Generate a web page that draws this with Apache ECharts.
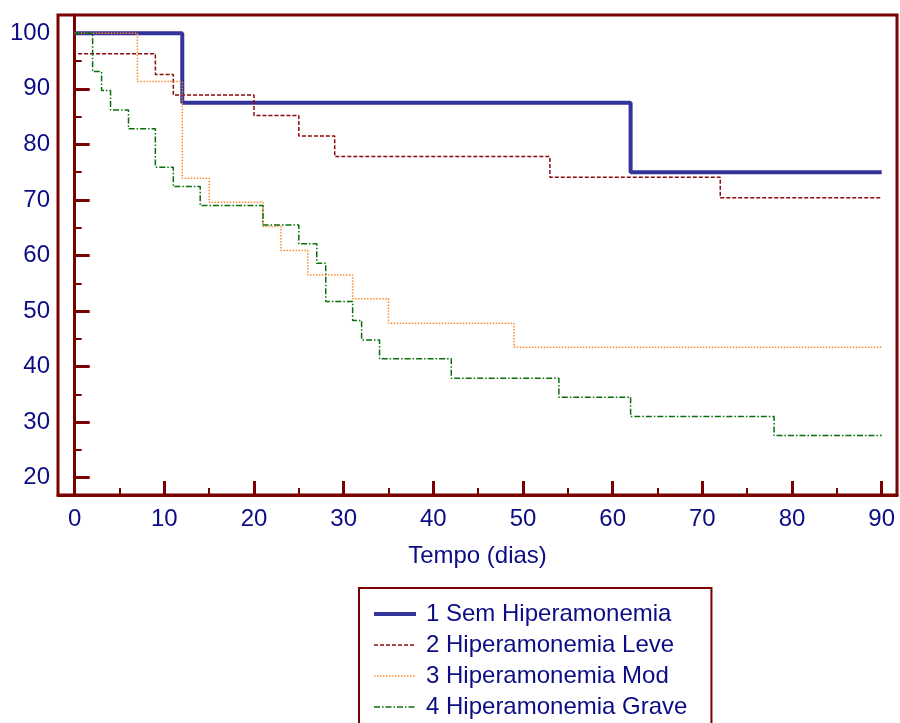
<!DOCTYPE html>
<html>
<head>
<meta charset="utf-8">
<script src="https://cdn.jsdelivr.net/npm/echarts@6/dist/echarts.min.js"></script>
<style>
html,body{margin:0;padding:0;background:#ffffff;}
#chart{width:900px;height:723px;}
</style>
</head>
<body>
<div id="chart"></div>
<script>
// ---- Data ----
const seriesNames = ['1 Sem Hiperamonemia', '2 Hiperamonemia Leve', '3 Hiperamonemia Mod', '4 Hiperamonemia Grave'];

const times1 = [0, 12, 62, 90];
const surv1  = [100, 87.5, 75, 75];

const times2 = [0, 0, 9, 11, 20, 25, 29, 53, 72, 90];
const surv2  = [100, 96.3, 92.6, 88.9, 85.2, 81.5, 77.8, 74.1, 70.4, 70.4];

const times3 = [0, 7, 12, 15, 21, 23, 26, 31, 35, 49, 90];
const surv3  = [100, 91.3, 73.9, 69.6, 65.2, 60.9, 56.5, 52.2, 47.8, 43.5, 43.5];

const times4 = [0, 2, 3, 4, 6, 9, 11, 14, 21, 25, 27, 28, 31, 32, 34, 42, 54, 62, 78, 90];
const surv4  = [100, 93.1, 89.7, 86.2, 82.8, 75.9, 72.4, 69.0, 65.5, 62.1, 58.6, 51.7, 48.3, 44.8, 41.4, 37.9, 34.5, 31.0, 27.6, 27.6];

const xMajorTicks = [0, 10, 20, 30, 40, 50, 60, 70, 80, 90];
const xMinorTicks = [5, 15, 25, 35, 45, 55, 65, 75, 85];
const yMajorTicks = [20, 30, 40, 50, 60, 70, 80, 90, 100];
const yMinorTicks = [25, 35, 45, 55, 65, 75, 85, 95];

const xTitle = 'Tempo (dias)';

// ---- Styling ----
const AXIS = '#7b0000';
const TEXT = '#0c0c84';
const FONT = '"Liberation Sans", Arial, sans-serif';
const FS = 24;
const COLORS = ['#333399', '#8b0a0a', '#ff8a2a', '#0a6e0a'];
const WIDTHS = [4, 1.5, 1.5, 1.5];
const DASHES = ['solid', [4, 2], [1.5, 1.5], [6, 2, 1.5, 2]];

function pairs(t, s) { return t.map((v, i) => [v, s[i]]); }

const chart = echarts.init(document.getElementById('chart'), null, {renderer: 'canvas'});

const xBase = {type: 'value', min: -1.86, max: 91.71, gridIndex: 0, position: 'bottom', splitLine: {show: false}};
const yBase = {type: 'value', min: 16.89, max: 103.29, gridIndex: 0, position: 'left', splitLine: {show: false}};

const allData = [pairs(times1, surv1), pairs(times2, surv2), pairs(times3, surv3), pairs(times4, surv4)];

chart.setOption({
  animation: false,
  backgroundColor: '#ffffff',
  grid: {left: 58, right: 3, top: 15, bottom: 228, show: true, borderColor: AXIS, borderWidth: 3, backgroundColor: 'transparent'},
  xAxis: [
    Object.assign({}, xBase, {
      axisLine: {show: true, lineStyle: {color: AXIS, width: 3}},
      axisTick: {show: true, inside: true, length: 14, lineStyle: {color: AXIS, width: 3}, customValues: xMajorTicks},
      axisLabel: {show: true, customValues: xMajorTicks, color: TEXT, fontSize: FS, fontFamily: FONT, margin: 12},
      name: xTitle, nameLocation: 'middle', nameGap: 49,
      nameTextStyle: {color: TEXT, fontSize: FS, fontFamily: FONT}
    }),
    Object.assign({}, xBase, {
      axisLine: {show: false},
      axisTick: {show: true, inside: true, length: 7, lineStyle: {color: AXIS, width: 2}, customValues: xMinorTicks},
      axisLabel: {show: false}
    })
  ],
  yAxis: [
    Object.assign({}, yBase, {
      axisLine: {show: true, lineStyle: {color: AXIS, width: 3}},
      axisTick: {show: true, inside: true, length: 15, lineStyle: {color: AXIS, width: 3}, customValues: yMajorTicks},
      axisLabel: {show: true, customValues: yMajorTicks, color: TEXT, fontSize: FS, fontFamily: FONT, margin: 8}
    }),
    Object.assign({}, yBase, {
      axisLine: {show: false},
      axisTick: {show: true, inside: true, length: 7, lineStyle: {color: AXIS, width: 2}, customValues: yMinorTicks},
      axisLabel: {show: false}
    })
  ],
  legend: {
    orient: 'vertical',
    left: 359, top: 588, height: 220,
    padding: [14, 24, 24, 13],
    borderColor: AXIS, borderWidth: 2,
    itemWidth: 42, itemHeight: 14, itemGap: 7,
    itemStyle: {color: 'transparent', borderColor: 'transparent', borderWidth: 0},
    textStyle: {color: TEXT, fontSize: FS, fontFamily: FONT, lineHeight: 24, padding: [0, 0, 0, 5]},
    data: seriesNames.map((n, i) => ({name: n, lineStyle: {width: WIDTHS[i], color: COLORS[i], type: DASHES[i]}}))
  },
  series: seriesNames.map((n, i) => ({
    name: n, type: 'line', step: 'end', symbol: 'none', data: allData[i],
    lineStyle: {color: COLORS[i], width: WIDTHS[i], type: DASHES[i]},
    itemStyle: {color: COLORS[i]}, z: 2 + i
  }))
});
</script>
</body>
</html>
